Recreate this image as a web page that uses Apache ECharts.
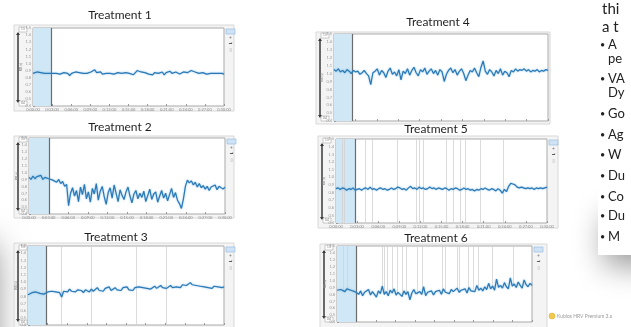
<!DOCTYPE html>
<html>
<head>
<meta charset="utf-8">
<script src="https://cdn.jsdelivr.net/npm/echarts@6/dist/echarts.min.js"></script>
<style>
  html, body { margin: 0; padding: 0; background: #fff; }
  #chart { width: 631px; height: 327px; }
</style>
</head>
<body>
<div id="chart"></div>
<script>
// RR interval traces (s), one per treatment
const TITLES = ["Treatment 1", "Treatment 2", "Treatment 3", "Treatment 4", "Treatment 5", "Treatment 6"];
const X_TICK_LABELS = ["0:00:00", "0:03:00", "0:06:00", "0:09:00", "0:12:00", "0:15:00", "0:18:00", "0:21:00", "0:24:00", "0:27:00", "0:30:00"];
const Y_MIN = 0.4;
const Y_MAX = 1.5;
const Y_STEP = 0.1;

const T1_RR = [
  0.86,0.87,0.88,0.86,0.87,0.85,0.86,0.88,0.86,0.85,
  0.86,0.87,0.86,0.88,0.85,0.86,0.87,0.89,0.86,0.83,
  0.86,0.87,0.88,0.86,0.87,0.85,0.86,0.85,0.86,0.87,
  0.88,0.86,0.91,0.87,0.86,0.88,0.85,0.87,0.86,0.84,
  0.86,0.87,0.85,0.86,0.87,0.85,0.86,0.88,0.87,0.85,
  0.86,0.87,0.84,0.86,0.90,0.89,0.88,0.88,0.87,0.86,
  0.85,0.86,0.84,0.87,0.88,0.86,0.85,0.88,0.84,0.87,
  0.86,0.89,0.86,0.85,0.88,0.86,0.85,0.87,0.88,0.86,
  0.87,0.86,0.90,0.91,0.88,0.89,0.86,0.85,0.87,0.86,
  0.85,0.87,0.86,0.85,0.86,0.84,0.86,0.85,0.86,0.85
];
const T2_RR = [
  0.93,0.90,0.95,0.91,0.94,0.92,0.96,0.90,0.93,0.95,0.91,
  0.92,0.89,0.91,0.86,0.90,0.84,0.87,
  0.80,0.83,0.52,0.70,0.78,
  0.66,0.74,0.58,0.79,0.68,0.83,0.62,0.72,0.57,0.77,0.69,0.84,0.60,0.73,0.80,0.65,0.54,
  0.71,0.78,0.63,0.82,0.70,0.58,0.75,0.67,0.61,0.72,0.79,0.66,0.56,0.69,0.74,0.62,
  0.70,0.64,0.73,0.58,0.67,0.76,0.61,0.69,0.72,0.57,0.66,0.74,0.63,0.70,0.59,0.68,
  0.77,0.64,0.71,0.60,0.55,0.48,
  0.62,0.80,0.89,0.85,0.88,0.82,0.86,0.79,0.84,0.78,0.81,0.76,0.80,0.74,0.79,0.77,
  0.82,0.75,0.80,0.78,0.76,0.79
];
const T3_RR = [
  0.82,0.84,0.85,0.84,0.86,0.85,0.84,0.85,0.83,0.85,
  0.86,0.84,0.87,0.85,0.86,0.88,0.85,0.79,0.87,0.89,
  0.86,0.90,0.87,0.88,0.86,0.89,0.87,0.88,0.85,0.89,
  0.88,0.86,0.90,0.87,0.89,0.92,0.88,0.90,0.87,0.91,
  0.89,0.93,0.88,0.90,0.92,0.89,0.91,0.88,0.92,0.90,
  0.93,0.89,0.91,0.88,0.92,0.90,0.93,0.91,0.92,0.94,
  0.91,0.93,0.90,0.92,0.94,0.91,0.93,0.95,0.92,0.94,
  0.91,0.93,0.95,0.92,0.94,0.93,0.95,0.92,0.96,0.94,
  0.95,0.97,0.99,0.96,0.98,0.95,0.93,0.94,0.92,0.93,
  0.94,0.92,0.93,0.91,0.94,0.92,0.93,0.95,0.92,0.93
];
const T4_RR = [
  1.05,1.03,1.06,1.02,1.04,1.01,1.05,1.03,1.00,1.04,
  1.02,1.03,0.99,1.01,1.04,1.00,0.97,0.86,1.01,1.03,
  1.06,0.98,1.04,1.01,0.95,1.03,1.07,0.99,1.02,0.97,
  1.05,0.92,1.03,1.00,1.06,0.98,1.04,1.08,1.01,0.97,
  1.05,1.02,1.07,0.99,1.03,1.06,1.00,1.04,0.98,1.05,
  1.02,0.90,0.99,1.04,1.07,1.01,1.05,0.98,1.03,1.06,
  1.00,0.91,0.98,1.04,1.02,1.07,1.01,0.96,1.08,1.16,
  1.03,0.99,1.05,1.02,0.97,1.04,1.00,1.06,0.98,1.03,
  1.01,0.96,1.04,1.02,1.06,1.03,1.05,1.04,1.06,1.03,
  1.05,1.02,1.04,1.03,1.05,1.02,1.04,1.03,1.05,1.04
];
const T5_RR = [
  0.85,0.86,0.84,0.86,0.85,0.83,0.85,0.84,0.86,0.83,
  0.84,0.85,0.83,0.85,0.86,0.84,0.87,0.84,0.85,0.83,
  0.85,0.86,0.84,0.85,0.83,0.84,0.86,0.84,0.85,0.87,
  0.86,0.84,0.85,0.83,0.86,0.88,0.85,0.86,0.84,0.87,
  0.85,0.86,0.84,0.85,0.87,0.85,0.86,0.84,0.86,0.85,
  0.84,0.86,0.85,0.83,0.85,0.84,0.86,0.85,0.83,0.84,
  0.86,0.84,0.85,0.83,0.84,0.82,0.84,0.83,0.85,0.84,
  0.86,0.84,0.83,0.85,0.84,0.82,0.85,0.83,0.79,0.84,
  0.81,0.88,0.92,0.91,0.90,0.87,0.86,0.87,0.86,0.85,
  0.86,0.85,0.86,0.84,0.86,0.85,0.86,0.85,0.86,0.87
];
const T6_RR = [
  0.86,0.85,0.87,0.86,0.84,0.88,0.90,0.86,0.85,0.84,
  0.83,0.80,0.85,0.78,0.83,0.81,0.87,0.79,0.84,0.82,
  0.76,0.85,0.81,0.92,0.80,0.84,0.78,0.86,0.82,0.88,
  0.79,0.83,0.81,0.77,0.85,0.80,0.84,0.72,0.82,0.87,
  0.81,0.79,0.84,0.80,0.91,0.78,0.83,0.81,0.85,0.79,
  0.84,0.82,0.86,0.80,0.88,0.83,0.85,0.81,0.87,0.84,
  0.82,0.89,0.83,0.86,0.84,0.88,0.82,0.90,0.85,0.87,
  0.84,0.93,0.86,0.89,0.85,0.91,0.87,0.96,0.88,0.92,
  0.86,1.02,0.90,0.93,0.89,0.97,0.91,0.88,1.04,0.92,
  0.95,0.90,0.98,0.93,0.89,1.01,0.94,0.91,0.96,0.93
];
const SERIES = [T1_RR, T2_RR, T3_RR, T4_RR, T5_RR, T6_RR];

// end of the highlighted pre-sample segment (sample index)
const BAND_END = [9.3, 10.1, 9.1, 8.3, 8.9, 9.6];

// beats marked as artefacts (sample index)
const T3_ARTIFACTS = [16.7, 31.8, 54.5, 69.7];
const T5_ARTIFACTS = [2.8, 3.8, 13.6, 16.9, 28.6, 37.5, 38.9, 40.8, 51.6, 54.9, 58.2, 60.5, 67.6, 78.4];
const T6_ARTIFACTS = [3, 5.1, 22.8, 23.9, 25.4, 27.9, 30.5, 33, 35, 40.6, 43.1, 53.3, 54.8, 60.9, 61.9, 66.5, 69, 71.6, 78.7, 89.3];
const ARTIFACTS = [[], [], T3_ARTIFACTS, [], T5_ARTIFACTS, T6_ARTIFACTS];
const ARTIFACT_TO_TRACE = [false, false, false, false, false, true];

const BULLETS = ["A", "VA", "Go", "Ag", "W", "Du", "Co", "Du", "M"];

// panel placement on the slide
const LAYOUT = [
  { frame: [14, 25, 220, 86], grid: [33, 28, 191, 78], title: [120, 15], tool: true, xLabels: true },
  { frame: [14, 136, 220, 82], grid: [29, 138, 196, 76], title: [120, 127], tool: true, xLabels: true },
  { frame: [14, 243, 220, 92], grid: [28, 246, 196, 79], title: [116, 237], tool: true, xLabels: false },
  { frame: [316, 32, 234, 92], grid: [334, 34, 214, 87], title: [438, 22], tool: false, xLabels: false },
  { frame: [318, 136, 240, 92], grid: [336, 139, 211, 84], title: [436, 129], tool: true, xLabels: true },
  { frame: [320, 244, 227, 92], grid: [337, 246, 195, 76], title: [436, 238], tool: true, xLabels: false }
];

const FONT = "Lato, 'Open Sans', sans-serif";
const LINE_BLUE = "#2a79b6";

const chart = echarts.init(document.getElementById("chart"), null, { renderer: "canvas" });

const grids = [], xAxes = [], yAxes = [], series = [], graphics = [];

LAYOUT.forEach((L, i) => {
  const [gl, gt, gw, gh] = L.grid;
  const [fx, fy, fw, fh] = L.frame;
  const data = SERIES[i];
  const n = data.length;

  grids.push({ left: gl, top: gt, width: gw, height: gh, show: true, backgroundColor: "#fff", borderColor: "#a9a9a9", borderWidth: 1 });
  xAxes.push({
    type: "value", gridIndex: i, min: 0, max: n - 1, interval: (n - 1) / 10,
    axisLine: { show: false }, splitLine: { show: false },
    axisTick: { inside: true, length: 2, lineStyle: { color: "#999" } },
    axisLabel: {
      show: L.xLabels, fontSize: 4, color: "#888", margin: 2, fontFamily: FONT,
      formatter: (v) => X_TICK_LABELS[Math.round(v / ((n - 1) / 10))] || ""
    }
  });
  yAxes.push({
    type: "value", gridIndex: i, min: Y_MIN, max: Y_MAX, interval: Y_STEP,
    axisLine: { show: false }, splitLine: { show: false },
    axisTick: { show: true, inside: true, length: 2, lineStyle: { color: "#999" } },
    axisLabel: { fontSize: 4, color: "#999", margin: 2, fontFamily: FONT, formatter: (v) => v.toFixed(1) }
  });

  const artLines = ARTIFACTS[i].map((a) => {
    if (ARTIFACT_TO_TRACE[i]) {
      const yv = data[Math.round(a)];
      return [{ coord: [a, Y_MAX] }, { coord: [a, yv] }];
    }
    return { xAxis: a };
  });

  series.push({
    type: "line", xAxisIndex: i, yAxisIndex: i, data: [], z: 1, silent: true,
    markArea: {
      silent: true,
      itemStyle: { color: "#d0e7f5" },
      data: [[{ xAxis: 0 }, { xAxis: BAND_END[i] }]]
    },
    markLine: {
      silent: true, symbol: ["none", "none"], label: { show: false },
      lineStyle: { color: "#d2d2d2", width: 0.8, type: "solid" },
      data: artLines.concat([{ xAxis: BAND_END[i], lineStyle: { color: "#6b6b6b", width: 1.2, type: "solid" } }])
    }
  });
  series.push({
    type: "line", xAxisIndex: i, yAxisIndex: i, z: 5, silent: true,
    showSymbol: false, animation: false,
    data: data.map((v, k) => [k, v]),
    lineStyle: { color: LINE_BLUE, width: 1.2, shadowColor: "rgba(90,165,220,0.75)", shadowBlur: 2 }
  });

  // frame around each panel
  graphics.push({ type: "rect", z: -10, shape: { x: fx, y: fy, width: fw, height: fh }, style: { fill: "#f4f4f4", stroke: "#d8d8d8", lineWidth: 1 } });
  // title
  graphics.push({ type: "text", x: L.title[0], y: L.title[1], style: { text: TITLES[i], fill: "#1f1f1f", font: "12px " + FONT, align: "center", verticalAlign: "middle" } });
  // left range slider
  const sx = fx + 4;
  graphics.push({ type: "line", shape: { x1: sx, y1: gt + 5, x2: sx, y2: gt + gh - 4 }, style: { stroke: "#3a3a3a", lineWidth: 1.5 } });
  graphics.push({ type: "polygon", shape: { points: [[sx - 2, gt + 7], [sx + 2, gt + 7], [sx, gt + 4]] }, style: { fill: "#3a3a3a" } });
  graphics.push({ type: "polygon", shape: { points: [[sx - 2, gt + gh - 6], [sx + 2, gt + gh - 6], [sx, gt + gh - 3]] }, style: { fill: "#3a3a3a" } });
  graphics.push({ type: "rect", shape: { x: sx + 1, y: gt - 1, width: 8, height: 5 }, style: { fill: "#fff", stroke: "#aaa", lineWidth: 0.6 } });
  graphics.push({ type: "rect", shape: { x: sx + 1, y: gt + gh - 5, width: 8, height: 5 }, style: { fill: "#fff", stroke: "#aaa", lineWidth: 0.6 } });
  graphics.push({ type: "text", x: sx + 5, y: gt + 1.5, style: { text: Y_MAX.toFixed(1), fill: "#777", font: "3px " + FONT, align: "center", verticalAlign: "middle" } });
  graphics.push({ type: "text", x: sx + 5, y: gt + gh - 2.5, style: { text: Y_MIN.toFixed(1), fill: "#777", font: "3px " + FONT, align: "center", verticalAlign: "middle" } });
  graphics.push({ type: "text", x: gl - 12, y: gt + gh / 2, rotation: Math.PI / 2, style: { text: "RR (s)", fill: "#888", font: "3.5px " + FONT, align: "center", verticalAlign: "middle" } });
  // toolbar on the right
  if (L.tool) {
    const tx = gl + gw + 2;
    graphics.push({ type: "rect", shape: { x: tx, y: gt + 1, width: 9, height: 5 }, style: { fill: "#cfe3f4", stroke: "#8fbbe0", lineWidth: 0.6 } });
    graphics.push({ type: "text", x: tx + 4.5, y: gt + 10, style: { text: "+", fill: "#777", font: "5px " + FONT, align: "center", verticalAlign: "middle" } });
    graphics.push({ type: "text", x: tx + 4.5, y: gt + 16, style: { text: "~", fill: "#333", font: "bold 7px " + FONT, align: "center", verticalAlign: "middle" } });
    graphics.push({ type: "text", x: tx + 4.5, y: gt + 22, style: { text: "▯", fill: "#888", font: "4px 'DejaVu Sans'", align: "center", verticalAlign: "middle" } });
  }
});

// lower-left slide shadow
graphics.push({ type: "rect", z: -20, shape: { x: -60, y: 245, width: 54, height: 150 }, style: { fill: "#fff", shadowBlur: 34, shadowColor: "rgba(0,0,0,0.5)" } });
// right text box: soft shadow below it, plain white box on top
graphics.push({ type: "rect", z: 19, shape: { x: 610, y: 200, width: 60, height: 50 }, style: { fill: "#fff", shadowBlur: 30, shadowOffsetX: -6, shadowOffsetY: 16, shadowColor: "rgba(0,0,0,0.4)" } });
graphics.push({ type: "rect", z: 20, shape: { x: 598, y: -10, width: 60, height: 265 }, style: { fill: "#fff" } });
graphics.push({ type: "text", z: 21, x: 602, y: 9, style: { text: "thi", fill: "#222", font: "15px " + FONT, verticalAlign: "middle" } });
graphics.push({ type: "text", z: 21, x: 602, y: 27, style: { text: "a t", fill: "#222", font: "15px " + FONT, verticalAlign: "middle" } });
const BULLET_Y = [45, 79, 114, 135, 155, 176, 197, 216, 237];
BULLETS.forEach((b, k) => {
  graphics.push({ type: "text", z: 21, x: 600, y: BULLET_Y[k], style: { text: "•", fill: "#222", font: "9px " + FONT, verticalAlign: "middle" } });
  graphics.push({ type: "text", z: 21, x: 608, y: BULLET_Y[k], style: { text: b, fill: "#222", font: "13px " + FONT, verticalAlign: "middle" } });
});
graphics.push({ type: "text", z: 21, x: 608, y: 59, style: { text: "pe", fill: "#222", font: "13px " + FONT, verticalAlign: "middle" } });
graphics.push({ type: "text", z: 21, x: 608, y: 93, style: { text: "Dy", fill: "#222", font: "13px " + FONT, verticalAlign: "middle" } });
// footer logo text
graphics.push({ type: "circle", shape: { cx: 552, cy: 316, r: 3 }, style: { fill: "#f2c94c", stroke: "#d9a925", lineWidth: 0.5 } });
graphics.push({ type: "text", x: 557, y: 316, style: { text: "Kubios HRV Premium 3.x", fill: "#9a9a9a", font: "5px " + FONT, verticalAlign: "middle" } });

chart.setOption({
  animation: false,
  backgroundColor: "#fff",
  grid: grids,
  xAxis: xAxes,
  yAxis: yAxes,
  series: series,
  graphic: graphics
});
</script>
</body>
</html>
